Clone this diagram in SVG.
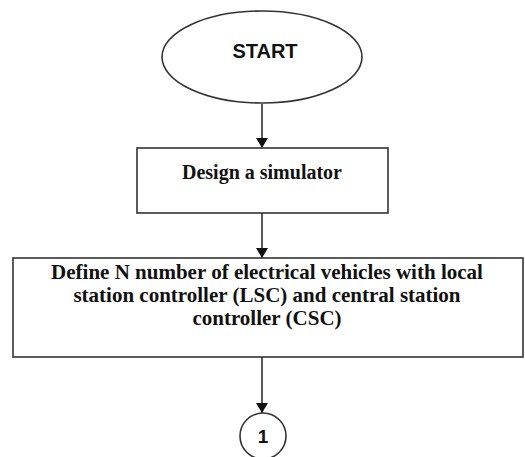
<svg xmlns="http://www.w3.org/2000/svg" width="525" height="457" viewBox="0 0 525 457">
<style>
.shape{fill:#fff;stroke:#333;stroke-width:1.6}
.edge{stroke:#333;stroke-width:1.6;fill:none}
.serif{font-family:"Liberation Serif","Times New Roman",serif;font-weight:bold;fill:#111;text-anchor:middle}
.sans{font-family:"Liberation Sans",Arial,sans-serif;font-weight:bold;fill:#111;text-anchor:middle}
</style>
<defs>
<marker id="arr" markerWidth="10" markerHeight="12" refX="10" refY="6" orient="auto" markerUnits="userSpaceOnUse">
<path d="M0,0 L10,6 L0,12 Z" fill="#111"/>
</marker>
</defs>
<g id="connectors">
<line class="edge" x1="262" y1="104" x2="262" y2="148" marker-end="url(#arr)"/>
<line class="edge" x1="262" y1="213" x2="262" y2="258" marker-end="url(#arr)"/>
<line class="edge" x1="262" y1="357" x2="262" y2="413" marker-end="url(#arr)"/>
</g>
<g id="start">
<ellipse class="shape" cx="262" cy="57" rx="100" ry="46"/>
<text class="sans" x="265" y="58" font-size="20">START</text>
</g>
<g id="design">
<rect class="shape" x="137" y="148" width="251" height="65"/>
<text class="serif" x="262" y="179" font-size="20">Design a simulator</text>
</g>
<g id="define">
<rect class="shape" x="13" y="258" width="510" height="99"/>
<text class="serif" x="267" y="279" font-size="21">Define N number of electrical vehicles with local</text>
<text class="serif" x="267" y="302" font-size="21">station controller (LSC) and central station</text>
<text class="serif" x="267" y="325" font-size="21">controller (CSC)</text>
</g>
<g id="connector1">
<circle class="shape" cx="263" cy="436" r="23"/>
<text class="sans" x="263" y="443" font-size="19">1</text>
</g>
</svg>
